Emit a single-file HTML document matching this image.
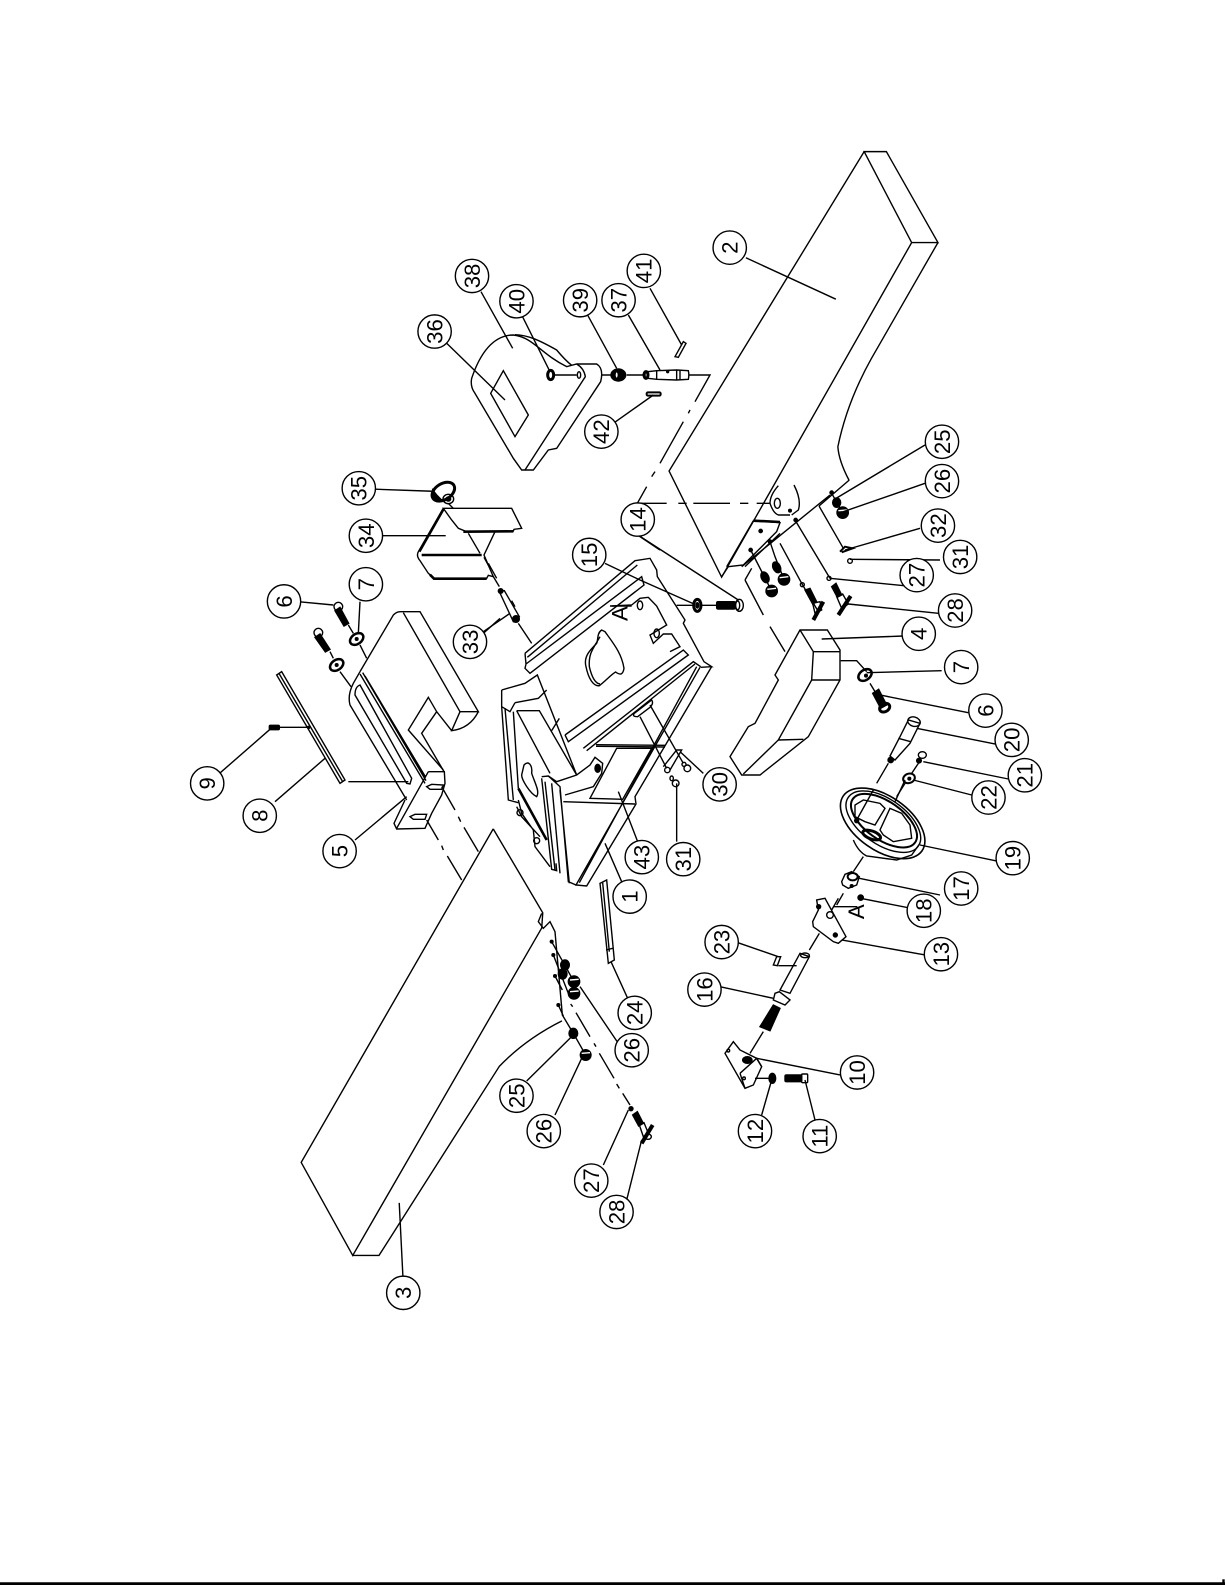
<!DOCTYPE html>
<html><head><meta charset="utf-8"><style>
html,body{margin:0;padding:0;background:#fff;width:1225px;height:1585px;overflow:hidden}
svg{display:block}
path,line,ellipse,circle,rect{vector-effect:non-scaling-stroke;stroke:#000;stroke-width:1.4;fill:none}
.w{fill:#fff}
.k{fill:#000}
.b{stroke-width:2.6}
.h{stroke:#fff;stroke-width:1.4}
text{font-family:"Liberation Sans",sans-serif;font-size:22px;fill:#000;text-anchor:middle}
.c circle{fill:#fff}
.c g text{transform:rotate(-90deg) translateY(7.8px)}
.a{font-size:22px}
</style></head><body>
<svg width="1225" height="1585" viewBox="0 0 1225 1585" xmlns="http://www.w3.org/2000/svg">
<rect x="0" y="1583" width="1225" height="2" class="k"/>
<rect x="1223" y="1580" width="1" height="3" class="k"/>

<!-- tables -->
<g transform="scale(1.0107,1.0108)">
<path d="M855 150L662 466L714 571L902 240L855 150L877 150L928 240L902 240"/>
<path d="M928 240L862 355Q838 398 829 442Q830 456 840 475"/>
<path d="M488 820L298 1150L349 1242L536 918L537 903L488 820"/>
<path d="M349 1242L375 1242L494 1055Q520 1028 556 1010"/>
<line x1="738" y1="255" x2="827" y2="296"/>
<line x1="399" y1="1270" x2="395" y2="1190"/>
<line x1="371" y1="484" x2="428" y2="486"/>
<line x1="378" y1="530" x2="441" y2="530"/>
</g>

<!-- guard 34 and knob 35 -->
<g transform="translate(410,470) scale(.33333)">
<path d="M100 115L305 115L335 175L312 178L310 183L170 185L145 175L125 150Z"/>
<path class="b" d="M160 185L310 184"/>
<path d="M100 115L25 245Q18 258 30 272L55 310L72 325L230 325L235 316L250 320L222 255L255 185"/>
<path d="M175 190L210 250"/>
<path class="b" d="M35 255L215 255"/>
<path class="b" d="M100 118L28 245M60 314L72 326L230 326"/>
<ellipse cx="100" cy="65" rx="37" ry="24" transform="rotate(-32 100 65)" style="stroke-width:3"/>
<path class="k" d="M68 60L68 80L85 95L95 90L80 75Z"/>
<ellipse cx="115" cy="87" rx="16" ry="14"/>
<ellipse cx="115" cy="87" rx="7" ry="6" class="k"/>
<path d="M115 100L130 115M222 262L240 295M250 320L268 350"/>
</g>

<!-- housing -->
<g transform="translate(450,520) scale(.33333)">
<path d="M225 400L555 122L600 115L620 150L622 170L705 300L700 310L762 425L785 440L752 442"/>
<path d="M232 412L562 135M228 432L575 170L582 195L240 460L225 445L228 432M225 400L228 432"/>
<path d="M785 440L555 830L558 852L410 1098L378 1095L750 442M388 1088L740 440"/>
<path d="M345 645L700 390L715 405L355 665L345 645M400 685L730 425L752 440M410 692L735 432"/>
<path d="M455 330C440 340 445 360 440 370C420 390 400 410 408 440C415 475 430 500 448 497C470 480 485 462 497 456C505 462 518 470 522 445C515 400 490 370 465 335Z"/>
<path d="M450 350C430 385 415 400 418 440C425 470 435 490 450 492"/>
<path d="M485 258L545 255L570 235L595 232L620 258L650 315L625 330L600 345L610 370L640 342L665 342L690 380L660 395"/>
<ellipse cx="570" cy="256" rx="8" ry="13"/><ellipse cx="620" cy="340" rx="8" ry="13"/>
<path d="M155 510L225 490L262 465L380 765M195 548L265 535L290 510M200 572L268 572L380 765M200 572L300 760M305 632L328 595"/>
<path d="M155 510L155 560L180 575L195 548M155 560L175 840L205 848M165 565L190 840M190 575L205 805"/>
<path d="M222 735C235 720 248 735 245 760C255 790 270 815 260 830C240 820 215 780 215 765Z"/>
<path class="b" d="M205 805L290 960"/>
<path d="M205 840L215 880L250 930L255 980L300 1040M200 860L215 890L270 950"/>
<circle cx="210" cy="878" r="9"/><circle cx="260" cy="962" r="9"/>
<path d="M275 770L295 768L330 800L355 1085L378 1095M275 775L305 1048L320 1052L318 1030M285 785L315 1050M305 790L330 1060M330 810L358 1090"/>
<path d="M295 768L320 785L380 765L420 735L435 712L458 730L455 760L430 800L345 825M340 845L555 852"/>
<ellipse cx="443" cy="745" rx="8" ry="12" class="k"/>
<path class="w" d="M500 685L605 685L518 838L420 835Z"/>
<path d="M438 674L645 676M438 679L645 681"/>
<path d="M553 580L605 540Q612 550 600 562L563 590Q545 590 553 580Z"/>
<path d="M570 590L650 745M600 555L700 730M640 740L680 690L695 690L660 750"/>
<circle cx="652" cy="750" r="8"/><circle cx="712" cy="745" r="10"/><circle cx="677" cy="790" r="10"/>
<ellipse cx="665" cy="775" rx="5" ry="7"/><ellipse cx="702" cy="733" rx="6" ry="6"/>
<ellipse cx="742" cy="256" rx="11" ry="18" style="stroke-width:3"/><ellipse cx="742" cy="256" rx="4" ry="8" class="k"/>
<rect x="800" y="245" width="56" height="22" rx="4" class="k"/>
<ellipse cx="868" cy="256" rx="12" ry="18"/><ellipse cx="863" cy="256" rx="6" ry="13"/>
<path d="M680 256L730 256M755 256L800 256"/>
<path d="M525 20L865 240M465 130L570 180L732 252M480 258L545 258"/>
<path d="M148 215L163 212L208 290L190 305Z"/>
<circle cx="152" cy="213" r="7" class="k"/><circle cx="198" cy="297" r="10" class="k"/>
<path d="M185 242L195 260M205 310L245 370M100 335L180 280M115 130L140 175"/>
<path d="M515 1085L465 970M563 965L505 815M680 965L680 790M760 760L690 695"/>
</g>

<!-- guard assembly -->
<g transform="translate(400,250) scale(.33333)">
<path d="M215 385C240 310 280 255 340 255C400 262 420 310 500 350L530 342L590 342Q612 355 602 395L470 595L445 600L400 660L365 660L340 625L225 430Q210 410 215 385Z"/>
<path d="M345 254C385 255 420 272 470 300Q495 330 515 346M530 342Q552 355 556 380L375 660"/>
<path d="M310 362L385 495L345 560L272 430Z"/>
<ellipse cx="452" cy="375" rx="9" ry="14" style="stroke-width:3"/><ellipse cx="537" cy="375" rx="5" ry="10"/>
<path d="M465 375L530 375M605 375L635 375M680 375L730 375"/>
<ellipse cx="655" cy="375" rx="22" ry="18" class="k"/>
<ellipse cx="650" cy="375" rx="5" ry="10" class="w"/>
<path class="w" d="M735 366L770 362L830 360L865 362Q868 375 865 388L830 390L770 388L735 384Z"/>
<path d="M830 360V390M840 362V388M770 362V388"/>
<circle cx="803" cy="365" r="3" class="k"/>
<ellipse cx="738" cy="375" rx="6" ry="10" style="stroke-width:3"/>
<rect x="740" y="427" width="42" height="10" rx="4" style="stroke-width:2"/>
<path d="M825 320L850 275L858 280L835 322Z"/>
<path d="M868 375L930 375L885 455M870 480L865 490M850 515L780 640M765 665L755 680M740 710L712 760L800 760M835 760L860 760M880 760L960 760"/>
<path d="M243 125L338 295M365 195L450 365M135 275L315 450M560 190L650 355M685 195L780 360M750 115L845 285M640 520L760 435M675 830L780 900"/>
</g>

<!-- right parts -->
<g transform="translate(720,420) scale(.33333)">
<ellipse cx="172" cy="250" rx="9" ry="15"/>
<path d="M0 250L30 250M60 250L85 250M110 250L150 250"/>
<path d="M175 197Q150 225 150 250Q160 280 175 285L210 285M222 195Q245 240 235 270L215 285"/>
<path d="M100 302L180 308L170 335L70 435L25 440L5 470M100 302L20 440"/>
<path class="b" d="M100 302L180 306"/>
<path d="M388 180L297 258M330 225L65 440M180 340L75 440M297 258L370 385M335 220L368 278M225 300L330 475"/>
<circle cx="122" cy="333" r="5" class="k"/><circle cx="210" cy="272" r="4" class="k"/><circle cx="227" cy="300" r="5" class="k"/>
<circle cx="335" cy="218" r="5" class="k"/><circle cx="150" cy="365" r="5" class="k"/><circle cx="92" cy="390" r="5" class="k"/>
<ellipse cx="350" cy="248" rx="12" ry="14" class="k"/>
<circle cx="368" cy="278" r="17" class="k"/><path class="h" d="M355 272L382 270"/>
<path d="M360 395L375 380L398 385L365 397" style="stroke-width:2"/><circle cx="390" cy="423" r="7"/>
<path d="M92 390L155 513M150 365L165 410L192 478"/>
<ellipse cx="135" cy="472" rx="11" ry="17" class="k" transform="rotate(-25 135 472)"/>
<ellipse cx="170" cy="442" rx="11" ry="17" class="k" transform="rotate(-25 170 442)"/>
<circle cx="155" cy="513" r="17" class="k"/><circle cx="192" cy="478" r="17" class="k"/>
<path class="h" d="M142 508L168 505M179 473L205 470"/>
<path d="M180 370L245 490L295 575M75 480L95 445M75 480L130 585M150 620L195 695"/>
<circle cx="247" cy="494" r="6"/><circle cx="327" cy="475" r="6"/>
<path d="M255 510L270 505L290 545L278 552Z" class="k"/>
<path d="M335 500L348 490L365 525L352 532Z" class="k"/>
<path d="M278 550L300 545L305 570L285 580Z"/><path d="M350 530L368 522L385 552L365 565Z"/>
<path d="M280 600L310 545" style="stroke-width:4"/><path d="M355 585L392 528" style="stroke-width:4"/>
<path class="w" d="M240 630L322 630L360 690L360 780L265 950L120 1065L65 1065L30 1010L85 920L105 910L175 780L165 765Z"/>
<path d="M240 630L280 695L275 780L175 960L70 1062M280 695L360 695M275 780L360 780M175 960L250 958"/>
<path d="M362 722L410 722L440 755M450 790L465 815"/>
<ellipse cx="435" cy="765" rx="22" ry="15" transform="rotate(-35 435 765)" style="stroke-width:2.5"/>
<circle cx="438" cy="767" r="4" class="k"/>
<path d="M458 820L476 808L500 855L482 865Z" class="k"/>
<ellipse cx="494" cy="863" rx="16" ry="12" transform="rotate(-30 494 863)" style="stroke-width:3"/>
<path d="M615 75L340 240M615 190L370 275M600 325L375 390M660 420L390 418M552 497L330 475M655 580L385 552M550 648L305 657M665 752L440 758M745 878L480 825"/>
</g>

<!-- handwheel -->
<g transform="translate(830,780) scale(.33333)">
<path d="M70 180Q85 215 110 228L200 240L245 225L270 190"/>
<ellipse cx="158" cy="130" rx="144" ry="81" transform="rotate(35 158 130)" style="stroke-width:1.6"/>
<ellipse cx="160" cy="125" rx="128" ry="68" transform="rotate(35 160 125)"/>
<ellipse cx="162" cy="122" rx="114" ry="57" transform="rotate(35 162 122)" style="stroke-width:2"/>
<path class="w" d="M75 110L75 75L100 60L150 70L165 85L135 135L105 125Z"/>
<path class="w" d="M180 85L215 100L240 135L245 175L190 185L160 165L150 150Z"/>
<ellipse cx="125" cy="165" rx="28" ry="12" transform="rotate(20 125 165)" style="stroke-width:3"/>
<path d="M130 30L80 120M225 0L195 65M100 230L70 275M40 340L20 375"/>
<circle cx="80" cy="122" r="6" class="k"/>
<path class="w" d="M35 305L45 283L65 275L88 290L80 315L55 325L38 315Z"/>
<ellipse cx="68" cy="290" rx="15" ry="11" style="stroke-width:2"/>
<circle cx="65" cy="318" r="4" class="k"/><circle cx="92" cy="353" r="8" class="k"/>
<path d="M270 195L510 245M88 295L330 345M92 355L280 392"/>
</g>

<!-- shaft, bracket, handle -->
<g transform="translate(720,680) scale(.33333)">
<path d="M290 660L315 655L378 770L355 790L340 785L280 740L278 725L295 690Z"/>
<ellipse cx="330" cy="705" rx="10" ry="10"/><circle cx="296" cy="680" r="6" class="k"/><circle cx="346" cy="765" r="6" class="k"/>
<path d="M340 680L412 680M355 655L335 690M298 760L268 810"/>
<path d="M240 820L268 830L210 940L180 930Z"/>
<ellipse cx="255" cy="826" rx="13" ry="7"/>
<path d="M165 940L178 935L210 960L195 975L160 960Z"/>
<path d="M120 1040L150 1052L180 985L160 975Z" class="k"/>
<path d="M130 1055L90 1120"/>
<path d="M15 1120L40 1085L60 1110L110 1135L125 1160L100 1215L75 1225Z"/>
<path d="M60 1180L110 1135L125 1160M60 1180L75 1225"/>
<ellipse cx="82" cy="1140" rx="14" ry="10" class="k"/><circle cx="72" cy="1195" r="4"/><circle cx="25" cy="1112" r="4"/>
<path d="M105 1195L150 1195"/>
<ellipse cx="157" cy="1195" rx="10" ry="15" class="k"/>
<rect x="195" y="1185" width="50" height="20" rx="4" class="k"/>
<rect x="245" y="1182" width="18" height="26" rx="3"/>
<path d="M160 855L170 830L182 830L172 857Z"/><path d="M175 857L230 857"/>
<path d="M470 310L505 250"/>
<circle cx="512" cy="240" r="8" class="k"/>
<path d="M510 228L540 170L565 120L600 130L570 190L525 240Z"/>
<ellipse cx="582" cy="125" rx="19" ry="14" transform="rotate(15 582 125)"/>
<path d="M535 175L572 185"/>
<ellipse cx="607" cy="225" rx="12" ry="10"/><circle cx="597" cy="242" r="7" class="k"/>
<path d="M575 280L595 250M555 310L530 350"/>
<ellipse cx="567" cy="295" rx="18" ry="14" transform="rotate(-20 567 295)" style="stroke-width:2"/><circle cx="568" cy="296" r="4" class="k"/>
<path d="M830 193L590 145M865 297L610 245M755 345L580 300M615 825L365 780M45 785L175 830M0 920L160 955M360 1185L110 1135M125 1305L155 1200M285 1320L255 1200"/>
</g>

<!-- fence -->
<g transform="translate(240,570) scale(.33333)">
<path d="M360 305L460 135Q470 125 480 125L540 125L715 425L660 425L490 128"/>
<path d="M715 425Q690 475 635 482L660 425M635 482L590 425L565 382L505 480L610 600"/>
<path d="M590 425L545 490L612 605"/>
<path d="M360 305L340 340Q322 375 330 405L500 690"/>
<path d="M345 375Q345 350 360 345L515 625L510 642L500 640Z"/>
<path d="M360 312L555 640M368 308L558 632M375 318L556 620"/>
<path d="M325 635L505 635"/>
<path d="M110 315L125 305L315 630L300 640Z"/><path d="M118 312L308 635"/>
<circle cx="295" cy="110" r="13"/>
<path d="M285 122L300 112L326 160L312 168Z" class="k"/>
<circle cx="235" cy="188" r="13"/>
<path d="M225 202L240 192L270 238L256 246Z" class="k"/>
<ellipse cx="350" cy="207" rx="22" ry="15" transform="rotate(-35 350 207)" style="stroke-width:2.5"/><circle cx="350" cy="207" r="4" class="k"/>
<ellipse cx="290" cy="285" rx="22" ry="15" transform="rotate(-35 290 285)" style="stroke-width:2.5"/><circle cx="290" cy="285" r="4" class="k"/>
<path d="M325 165L340 190M360 225L380 265M270 245L280 265M300 305L333 350"/>
<rect x="88" y="466" width="30" height="13" rx="3" class="k"/>
<path d="M118 472L205 472"/><circle cx="206" cy="472" r="3" class="k"/>
<path d="M-99 643L90 478M175 95L280 105M360 95L355 190M780 145L730 190M105 695L255 565M345 810L500 680"/>
</g>

<!-- fence foot and dashes -->
<g transform="translate(390,750) scale(.33333)">
<path d="M115 65L163 65L165 100L155 135L125 190L105 235L20 237L12 220L45 150M115 65L20 235"/>
<path d="M110 110L125 103L160 105L155 118L120 118Z"/>
<path d="M60 200L75 193L110 193L105 208L70 208Z"/>
<path d="M155 110L195 180M205 200L212 215M222 232L265 305M110 210L145 270M155 287L160 300M172 318L215 390"/>
</g>

<!-- lower nuts -->
<g transform="translate(500,880) scale(.33333)">
<path d="M125 100L115 125L130 145L150 125L165 155L187 405L220 460L257 525"/>
<path d="M155 185L222 305M160 225L205 340M165 288L187 330M175 375L190 408"/>
<circle cx="155" cy="185" r="4" class="k"/><circle cx="160" cy="225" r="4" class="k"/><circle cx="165" cy="288" r="4" class="k"/><circle cx="175" cy="375" r="4" class="k"/>
<ellipse cx="195" cy="255" rx="13" ry="15" class="k"/><ellipse cx="188" cy="282" rx="13" ry="15" class="k"/><ellipse cx="220" cy="460" rx="13" ry="15" class="k"/>
<circle cx="222" cy="305" r="17" class="k"/><circle cx="222" cy="340" r="17" class="k"/><circle cx="257" cy="525" r="16" class="k"/>
<path class="h" d="M210 300L236 298M210 335L236 333M245 520L270 518"/>
<path d="M212 372L218 380M228 398L270 470M282 490L288 500M298 520L342 595M350 612L358 625M368 640L390 675"/>
<circle cx="393" cy="686" r="6" class="k"/>
<path d="M398 705L412 695L430 730L416 738Z" class="k"/>
<path d="M418 735L432 728L445 760L430 770Z"/><path d="M425 790L458 735" style="stroke-width:4"/><ellipse cx="444" cy="770" rx="10" ry="8"/>
<path d="M300 10L320 0L343 240L325 250Z"/><path d="M318 210L338 205M308 8L328 215"/>
<path d="M383 355L333 245M355 490L240 320M165 705L245 535M80 603L215 470M310 855L385 690M370 1000L425 780"/>
</g>

<!-- labels -->
<g class="c" transform="scale(1.0107,1.0108)">
<g transform="translate(722,245)"><circle r="16.5"/><text>2</text></g>
<g transform="translate(467,273)"><circle r="16.5"/><text>38</text></g>
<g transform="translate(511,298)"><circle r="16.5"/><text>40</text></g>
<g transform="translate(430,328)"><circle r="16.5"/><text>36</text></g>
<g transform="translate(574,297)"><circle r="16.5"/><text>39</text></g>
<g transform="translate(612,297)"><circle r="16.5"/><text>37</text></g>
<g transform="translate(637,268)"><circle r="16.5"/><text>41</text></g>
<g transform="translate(595,427)"><circle r="16.5"/><text>42</text></g>
<g transform="translate(932,437)"><circle r="16.5"/><text>25</text></g>
<g transform="translate(932,476)"><circle r="16.5"/><text>26</text></g>
<g transform="translate(928,520)"><circle r="16.5"/><text>32</text></g>
<g transform="translate(950,551)"><circle r="16.5"/><text>31</text></g>
<g transform="translate(907,569)"><circle r="16.5"/><text>27</text></g>
<g transform="translate(945,604)"><circle r="16.5"/><text>28</text></g>
<g transform="translate(909,627)"><circle r="16.5"/><text>4</text></g>
<g transform="translate(951,660)"><circle r="16.5"/><text>7</text></g>
<g transform="translate(975,703)"><circle r="16.5"/><text>6</text></g>
<g transform="translate(1001,732)"><circle r="16.5"/><text>20</text></g>
<g transform="translate(1014,767)"><circle r="16.5"/><text>21</text></g>
<g transform="translate(978,789)"><circle r="16.5"/><text>22</text></g>
<g transform="translate(1002,849)"><circle r="16.5"/><text>19</text></g>
<g transform="translate(951,879)"><circle r="16.5"/><text>17</text></g>
<g transform="translate(914,901)"><circle r="16.5"/><text>18</text></g>
<g transform="translate(931,944)"><circle r="16.5"/><text>13</text></g>
<g transform="translate(714,932)"><circle r="16.5"/><text>23</text></g>
<g transform="translate(697,979)"><circle r="16.5"/><text>16</text></g>
<g transform="translate(848,1061)"><circle r="16.5"/><text>10</text></g>
<g transform="translate(747,1119)"><circle r="16.5"/><text>12</text></g>
<g transform="translate(811,1124)"><circle r="16.5"/><text>11</text></g>
<g transform="translate(628,1002)"><circle r="16.5"/><text>24</text></g>
<g transform="translate(625,1039)"><circle r="16.5"/><text>26</text></g>
<g transform="translate(511,1084)"><circle r="16.5"/><text>25</text></g>
<g transform="translate(538,1119)"><circle r="16.5"/><text>26</text></g>
<g transform="translate(585,1168)"><circle r="16.5"/><text>27</text></g>
<g transform="translate(610,1199)"><circle r="16.5"/><text>28</text></g>
<g transform="translate(399,1279)"><circle r="16.5"/><text>3</text></g>
<g transform="translate(355,483)"><circle r="16.5"/><text>35</text></g>
<g transform="translate(362,530)"><circle r="16.5"/><text>34</text></g>
<g transform="translate(631,514)"><circle r="16.5"/><text>14</text></g>
<g transform="translate(583,549)"><circle r="16.5"/><text>15</text></g>
<g transform="translate(362,578)"><circle r="16.5"/><text>7</text></g>
<g transform="translate(281,595)"><circle r="16.5"/><text>6</text></g>
<g transform="translate(465,635)"><circle r="16.5"/><text>33</text></g>
<g transform="translate(712,776)"><circle r="16.5"/><text>30</text></g>
<g transform="translate(676,850)"><circle r="16.5"/><text>31</text></g>
<g transform="translate(635,848)"><circle r="16.5"/><text>43</text></g>
<g transform="translate(623,887)"><circle r="16.5"/><text>1</text></g>
<g transform="translate(336,842)"><circle r="16.5"/><text>5</text></g>
<g transform="translate(257,807)"><circle r="16.5"/><text>8</text></g>
<g transform="translate(205,775)"><circle r="16.5"/><text>9</text></g>
<text class="a" transform="translate(621,607) rotate(-90)">A</text>
<text class="a" transform="translate(855,902) rotate(-90)">A</text>
</g>
</svg>
</body></html>
